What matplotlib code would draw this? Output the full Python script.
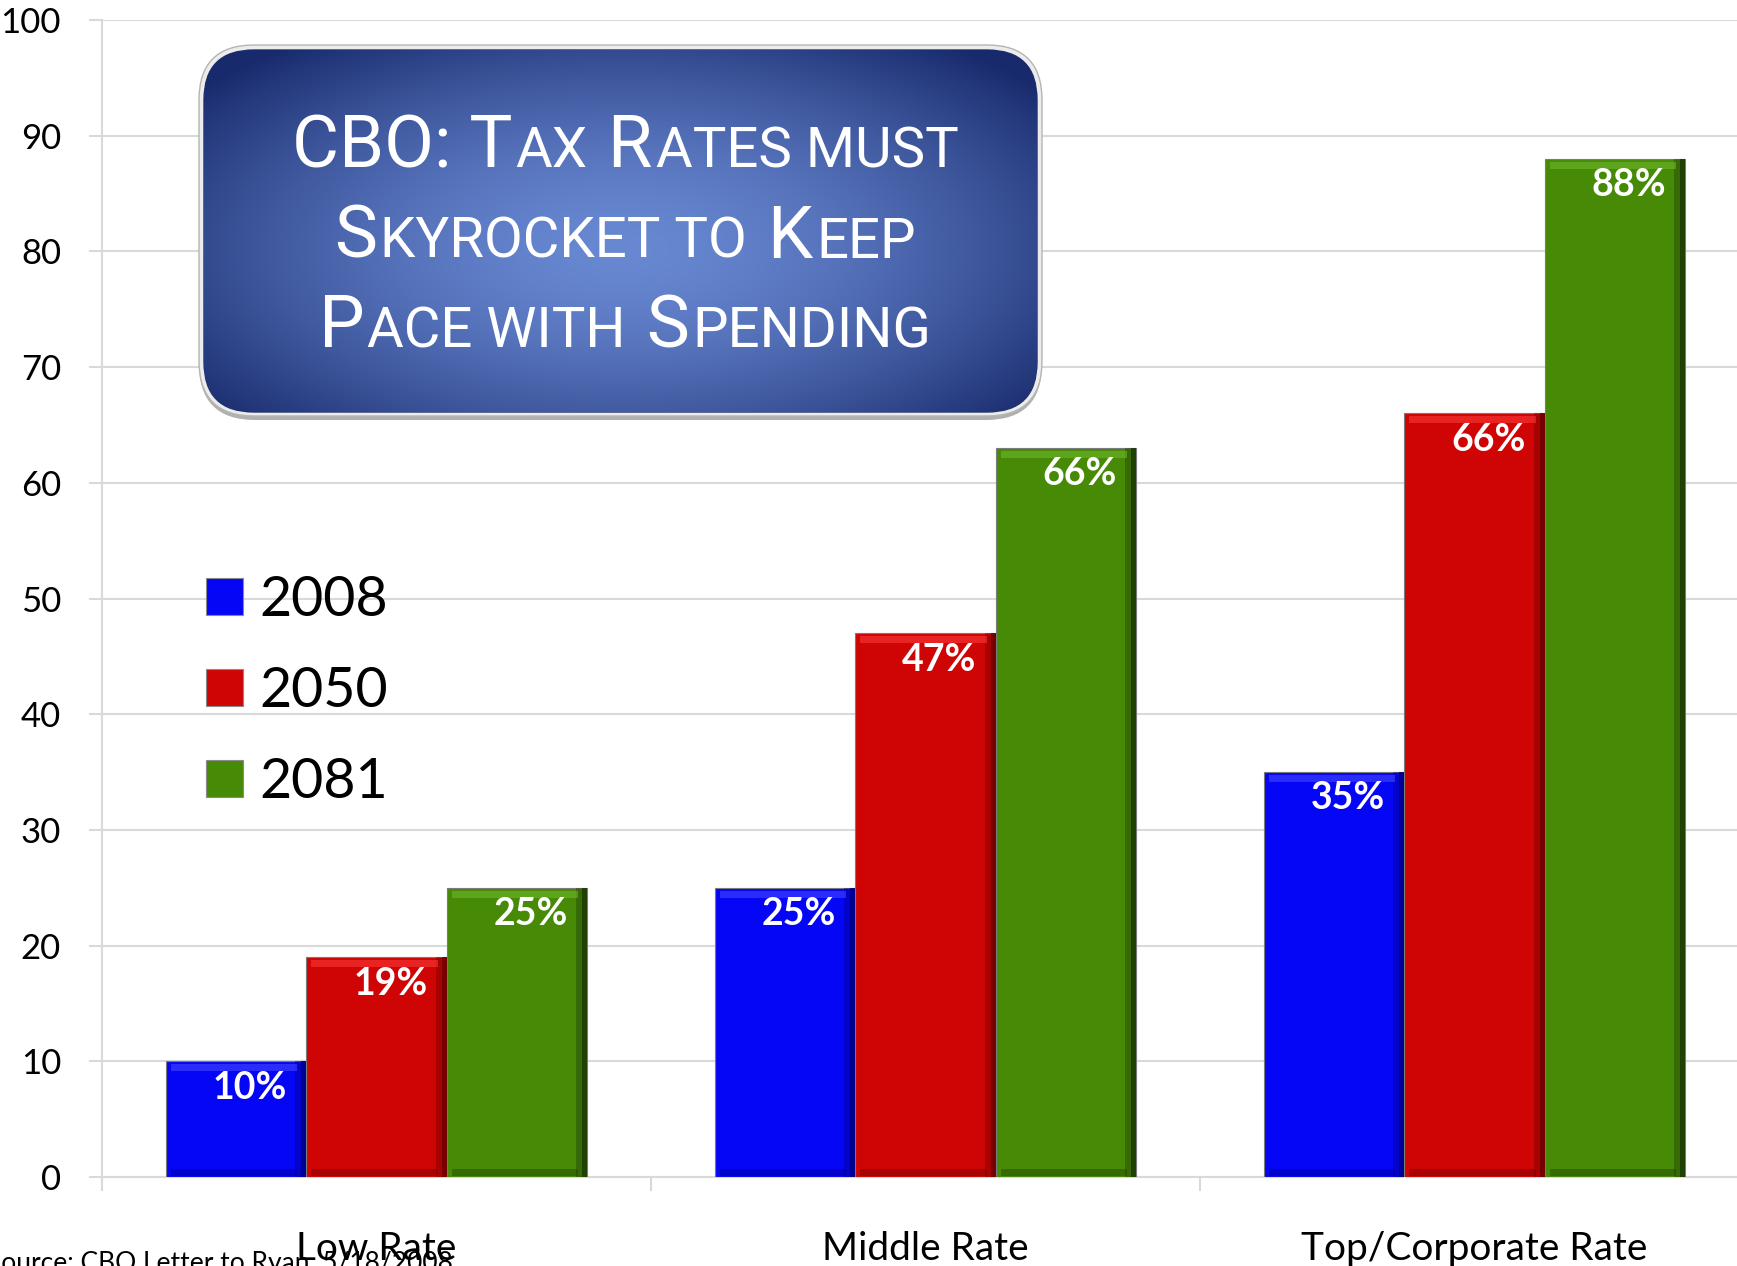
import numpy as np
import matplotlib
matplotlib.use("Agg")
import matplotlib.pyplot as plt
from matplotlib.patches import FancyBboxPatch, Patch

# ---------------- data ----------------
categories = ["Low Rate", "Middle Rate", "Top/Corporate Rate"]
years = ["2008", "2050", "2081"]
rates_2008 = [10, 25, 35]
rates_2050 = [19, 47, 66]
rates_2081 = [25, 63, 88]
labels_2008 = ["10%", "25%", "35%"]
labels_2050 = ["19%", "47%", "66%"]
labels_2081 = ["25%", "66%", "88%"]
yticks = [0, 10, 20, 30, 40, 50, 60, 70, 80, 90, 100]
title_lines = ["CBO: Tax Rates must", "Skyrocket to Keep", "Pace with Spending"]
source_text = "Source: CBO Letter to Ryan, 5/18/2008"

# ---------------- styles ----------------
W, H = 1737, 1266
plt.rcParams["font.family"] = ["Lato", "DejaVu Sans"]
main_colors = ["#0606f6", "#cf0505", "#478a06"]
dark_colors = ["#00008a", "#6e0000", "#1c3a03"]
light_colors = ["#4a4aff", "#ff3a3a", "#74bb30"]
grid_c = "#d9d9d9"

fig = plt.figure(figsize=(W / 100, H / 100), dpi=100)
ax = fig.add_axes([102 / W, 89 / H, (1749 - 102) / W, (1177 - 20) / H])
ax.set_xlim(-0.5, 2.5)
ax.set_ylim(0, 100)

series = [rates_2008, rates_2050, rates_2081]
series_labels = [labels_2008, labels_2050, labels_2081]
xc = np.arange(len(categories))
bw = 0.256
offsets = [-bw, 0.0, bw]

for si, (vals, labs) in enumerate(zip(series, series_labels)):
    xs = xc + offsets[si]
    ax.bar(xs, vals, bw, color=main_colors[si], edgecolor="#7a7a7a",
           linewidth=0.8, zorder=3)
    # bevel: right dark strips, top highlight, bottom shade
    ax.bar(xs + bw / 2 - 0.010, vals, 0.020, color=dark_colors[si],
           alpha=0.4, linewidth=0, zorder=4)
    ax.bar(xs + bw / 2 - 0.0045, vals, 0.009, color=dark_colors[si],
           alpha=0.85, linewidth=0, zorder=4)
    vals_arr = np.array(vals, dtype=float)
    ax.bar(xs - 0.004, 0.6, bw * 0.9, bottom=vals_arr - 0.85,
           color=light_colors[si], alpha=0.55, linewidth=0, zorder=4)
    ax.bar(xs - 0.004, 0.6, bw * 0.9, bottom=0.1,
           color=dark_colors[si], alpha=0.4, linewidth=0, zorder=4)
    for x, v, lab in zip(xs, vals, labs):
        ax.annotate(lab, (x, v), xytext=(10, -19), textcoords="offset points",
                    ha="center", va="center", color="white", fontsize=27,
                    fontweight="bold", zorder=6)

# axes styling
ax.set_yticks(yticks)
ax.set_yticklabels([str(v) for v in yticks])
ax.tick_params(axis="y", length=9.5, width=1.5, color=grid_c, pad=20,
               labelsize=25, labelcolor="black")
ax.yaxis.grid(True, color=grid_c, linewidth=1.5)
ax.set_axisbelow(True)
ax.set_xticks(xc)
ax.set_xticklabels(categories)
ax.tick_params(axis="x", which="major", length=0, pad=39, labelsize=28)
ax.set_xticks(np.arange(len(categories) + 1) - 0.5, minor=True)
ax.tick_params(axis="x", which="minor", length=10, width=1.5, color=grid_c)
for s in ["top", "right"]:
    ax.spines[s].set_visible(False)
for s in ["left", "bottom"]:
    ax.spines[s].set_color(grid_c)
    ax.spines[s].set_linewidth(1.5)

# legend
handles = [Patch(facecolor=c, edgecolor="#8a8a8a", linewidth=0.8) for c in main_colors]
ax.legend(handles, years, loc="upper left", bbox_to_anchor=(206 / W, 1 - 575 / H),
          bbox_transform=fig.transFigure, frameon=False, fontsize=40,
          handlelength=0.66, handleheight=0.66, handletextpad=0.3,
          labelspacing=0.72, borderpad=0, borderaxespad=0)

# ---------------- title box (overlay in pixel coords) ----------------
ov = fig.add_axes([0, 0, 1, 1], zorder=5)
ov.set_xlim(0, W)
ov.set_ylim(H, 0)
ov.axis("off")
ov.patch.set_alpha(0)

bx0, by0, bx1, by1 = 204, 50, 1037, 412
rad = 50
shadow = FancyBboxPatch((bx0 - 5, by0 - 3), bx1 - bx0 + 10, by1 - by0 + 11,
                        boxstyle=f"round,pad=0,rounding_size={rad + 6}",
                        fc="#9c9c9c", ec="none", alpha=0.8, zorder=1)
ov.add_patch(shadow)
border = FancyBboxPatch((bx0 - 5, by0 - 5), bx1 - bx0 + 10, by1 - by0 + 9,
                        boxstyle=f"round,pad=0,rounding_size={rad + 5}",
                        fc="#ececec", ec="#b5b5b5", lw=1.0, zorder=2)
ov.add_patch(border)
inner = FancyBboxPatch((bx0, by0), bx1 - bx0, by1 - by0,
                       boxstyle=f"round,pad=0,rounding_size={rad}",
                       fc="#3a5aa8", ec="#22336e", lw=1.0, zorder=3)
ov.add_patch(inner)

ny, nx = 200, 400
yy, xx = np.mgrid[0:ny, 0:nx]
rx = (xx / (nx - 1) - 0.5) / 0.5
ry = (yy / (ny - 1) - 0.55) / 0.55
r = np.clip(np.sqrt(rx ** 2 + ry ** 2) / 1.3, 0, 1) ** 1.6
c_center = np.array([104, 136, 210]) / 255
c_edge = np.array([24, 42, 108]) / 255
img = c_center[None, None, :] + (c_edge - c_center)[None, None, :] * r[..., None]
im = ov.imshow(img, extent=(bx0, bx1, by1, by0), origin="upper",
               aspect="auto", zorder=4, interpolation="bilinear")
im.set_clip_path(inner)
ov.set_xlim(0, W)
ov.set_ylim(H, 0)

title_family = ["Liberation Sans Narrow", "Roboto", "DejaVu Sans"]
renderer = fig.canvas.get_renderer()


def smallcaps_runs(s):
    runs = []
    pending = ""
    for ch in s:
        if ch == " ":
            pending += " "
            continue
        small = ch.isalpha() and ch.islower()
        if runs and runs[-1][1] == small:
            runs[-1][0] += pending + ch.upper()
        else:
            runs.append([pending + ch.upper(), small])
        pending = ""
    return runs


def draw_line(xc_px, yb_px, s, big, ratio):
    items = []
    for t, small in smallcaps_runs(s):
        tx = ov.text(0, yb_px, t, fontsize=big * ratio if small else big,
                     family=title_family, color="white", va="baseline",
                     ha="left", zorder=10)
        w = tx.get_window_extent(renderer).width
        items.append((tx, w))
    total = sum(w for _, w in items)
    x = xc_px - total / 2
    for tx, w in items:
        tx.set_x(x)
        x += w + 3
    return total


baselines = [167, 258, 347]
big_size = 52
ratio = 0.78
for line, yb in zip(title_lines, baselines):
    draw_line((bx0 + bx1) / 2, yb, line, big_size, ratio)

# source
fig.text(-13 / W, -5 / H, source_text, fontsize=19, va="baseline", ha="left")

fig.savefig("out.png", dpi=100)
